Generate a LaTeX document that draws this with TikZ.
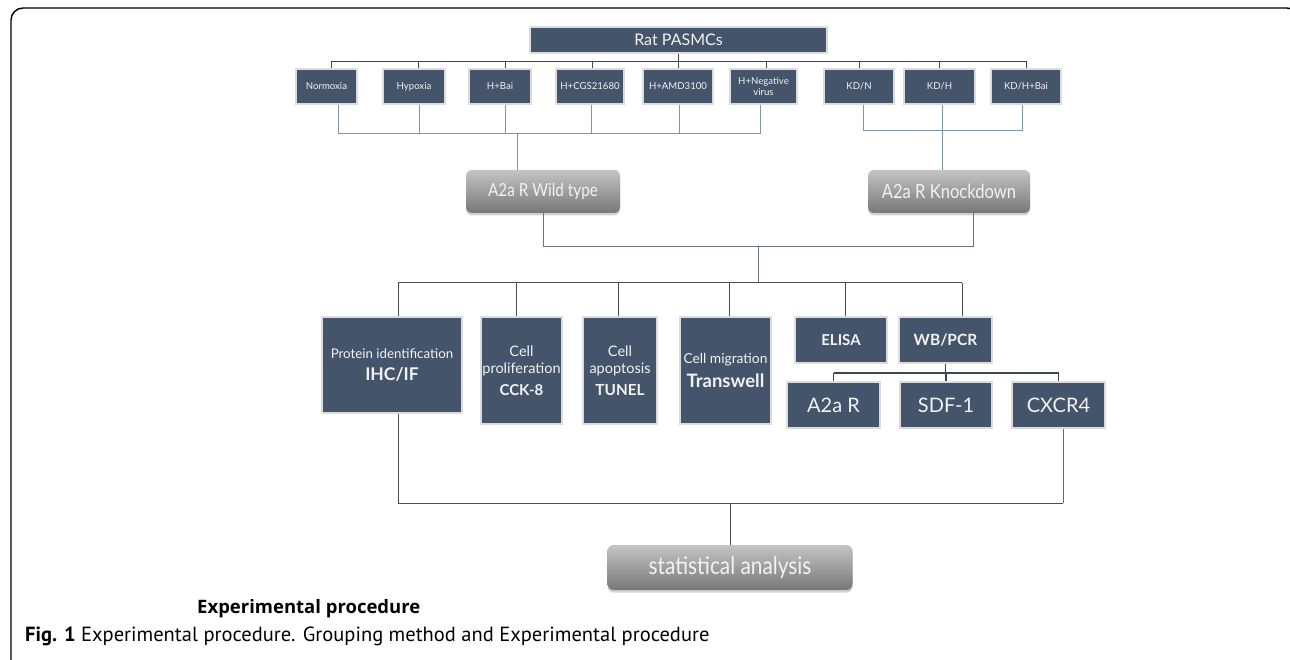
\documentclass[tikz,border=0pt]{standalone}
\usepackage{fontspec}
\setmainfont{Lato}
\newfontfamily\capfont{PT Sans}
\newfontfamily\expfont{Open Sans}
\newfontfamily\condfont[FakeStretch=0.85]{Lato}
\usetikzlibrary{shadows}
\definecolor{boxblue}{HTML}{44546A}
\definecolor{boxedge}{HTML}{DCDCDC}
\definecolor{txt}{HTML}{F2F2F2}
\definecolor{linedark}{HTML}{3B4656}
\definecolor{lineblue}{HTML}{7F93AE}
\definecolor{linegray}{HTML}{4D4D4D}
\definecolor{gtop}{HTML}{C4C4C4}
\definecolor{gbot}{HTML}{777777}
\begin{document}
\begin{tikzpicture}[x=1pt,y=-1pt,
  bbox/.style={draw=boxedge, line width=1.5pt, fill=boxblue, text=txt, inner sep=0pt, align=center},
  gbox/.style={rounded corners=6pt, top color=gtop, bottom color=gbot, draw=none, text=txt, inner sep=0pt, align=center,
     drop shadow={shadow xshift=0pt, shadow yshift=-2.5pt, opacity=0.35}},
  small/.style={font=\fontsize{9.6}{11}\selectfont},
  big/.style={font=\fontsize{20}{22}\selectfont},
  con/.style={line width=1pt}
]
\useasboundingbox (0,0) rectangle (1290,660);
\fill[white] (0,0) rectangle (1290,660);
% frame
\draw[line width=1.4pt, rounded corners=12pt] (11,672) -- (11,8) -- (1299,8) -- (1299,672);

% top
\node[bbox, minimum width=297pt, minimum height=26pt, font=\fontsize{16}{18}\selectfont] (rat) at (678.5,40) {Rat PASMCs};
\node[bbox, small, minimum width=61pt, minimum height=35pt] (norm) at (326.5,86.5) {Normoxia};
\node[bbox, small, minimum width=62pt, minimum height=35pt] (hyp) at (414,86.5) {Hypoxia};
\node[bbox, small, minimum width=62pt, minimum height=35pt] (hbai) at (500,86.5) {H+Bai};
\node[bbox, small, minimum width=68pt, minimum height=35pt] (hcgs) at (590,86.5) {H+CGS21680};
\node[bbox, small, minimum width=70pt, minimum height=35pt] (hamd) at (678,86.5) {H+AMD3100};
\node[bbox, small, minimum width=67pt, minimum height=35pt] (hneg) at (763.5,86.5) {H+Negative\\virus};
\node[bbox, small, minimum width=70pt, minimum height=35pt] (kdn) at (859,86.5) {KD/N};
\node[bbox, small, minimum width=71pt, minimum height=35pt] (kdh) at (939.5,86.5) {KD/H};
\node[bbox, small, minimum width=70pt, minimum height=35pt] (kdhb) at (1026,86.5) {KD/H+Bai};

\coordinate (b1) at (0,61.5);
\draw[linedark, line width=1.3pt] (rat.south) -- (rat.south |- b1);
\draw[linedark, line width=1.3pt] ([xshift=4.5pt]norm.north |- b1) -- (kdhb.north |- b1);
\foreach \n/\s in {norm/4.5,hyp/4,hbai/5,hcgs/2,hamd/0,hneg/2.5,kdn/0,kdh/-0.5,kdhb/0}
  \draw[linedark, line width=1pt] ([xshift=\s pt]\n.north |- b1) -- ([xshift=\s pt]\n.north);

% gray group boxes
\node[gbox, minimum width=154pt, minimum height=43pt, font=\condfont\fontsize{18}{20}\selectfont] (wt) at (543,191.5) {A2a R Wild type};
\node[gbox, minimum width=162pt, minimum height=43pt, font=\condfont\fontsize{19.5}{21}\selectfont] (kd) at (949,191.5) {A2a R Knockdown};

\coordinate (b2) at (0,134);
\foreach \n/\s in {norm/11.5,hyp/5,hbai/5,hcgs/1,hamd/1,hneg/-3.5}
  \draw[lineblue, con] ([xshift=\s pt]\n.south) -- ([xshift=\s pt]\n.south |- b2);
\draw[lineblue, con] ([xshift=11.5pt]norm.south |- b2) -- ([xshift=-3.5pt]hneg.south |- b2);
\coordinate (wtin) at (517,134);
\draw[lineblue, con] (wtin) -- (wtin |- wt.north);

\coordinate (b3) at (0,131);
\foreach \n/\s in {kdn/4,kdh/2.5,kdhb/-4}
  \draw[lineblue, con] ([xshift=\s pt]\n.south) -- ([xshift=\s pt]\n.south |- b3);
\draw[lineblue, con] ([xshift=4pt]kdn.south |- b3) -- ([xshift=-4pt]kdhb.south |- b3);
\coordinate (kdin) at (942,131);
\draw[lineblue, con] (kdin) -- (kdin |- kd.north);

\coordinate (b4) at (0,247);
\draw[lineblue!80!black, con] (wt.south) |- ([xshift=24pt]kd.south |- b4) -- ([xshift=24pt]kd.south);
\coordinate (m1) at (758,247);
\coordinate (m2) at (758,283);
\draw[lineblue!80!black, con] (m1) -- (m2);

% methods
\node[bbox, minimum width=140pt, minimum height=96pt, font=\fontsize{13.3}{16}\selectfont] (prot) at (392,365)
  {Protein identification\\[6pt]\fontsize{17.5}{19}\selectfont\bfseries IHC/IF};
\node[bbox, minimum width=81pt, minimum height=107pt, font=\fontsize{14.5}{17}\selectfont] (prolif) at (521.5,370.5)
  {Cell\\ proliferation\\[5pt]\fontsize{15}{17}\selectfont\bfseries CCK-8};
\node[bbox, minimum width=74pt, minimum height=107pt, font=\fontsize{14.5}{17}\selectfont] (apop) at (620,370.5)
  {Cell\\ apoptosis\\[5pt]\fontsize{15.3}{17}\selectfont\bfseries TUNEL};
\node[bbox, minimum width=91pt, minimum height=107pt, font=\fontsize{13.8}{16}\selectfont] (migr) at (725.5,370.5)
  {Cell migration\\[6pt]\fontsize{18.5}{20}\selectfont\bfseries Transwell};
\node[bbox, minimum width=92pt, minimum height=46pt, font=\fontsize{15}{17}\selectfont\bfseries] (elisa) at (841,340) {ELISA};
\node[bbox, minimum width=93pt, minimum height=46pt, font=\fontsize{15.5}{17}\selectfont\bfseries] (wb) at (945.5,340) {WB/PCR};
\node[bbox, big, minimum width=93pt, minimum height=46pt] (a2a) at (833.5,405) {A2a R};
\node[bbox, big, minimum width=92pt, minimum height=46pt] (sdf) at (946,405) {SDF-1};
\node[bbox, big, minimum width=93pt, minimum height=46pt] (cxcr) at (1058.5,405) {CXCR4};

\coordinate (b5) at (0,283);
\draw[linegray, con] ([xshift=6pt]prot.north |- b5) -- ([xshift=16.5pt]wb.north |- b5);
\foreach \n/\s in {prot/6,prolif/-5.5,apop/-2,migr/4,elisa/4.5,wb/16.5}
  \draw[linegray, con] ([xshift=\s pt]\n.north |- b5) -- ([xshift=\s pt]\n.north);

\coordinate (b6) at (0,373);
\draw[linedark, line width=1.2pt] (wb.south) -- (wb.south |- b6);
\draw[linedark, line width=1.2pt] (a2a.north |- b6) -- (cxcr.north |- b6);
\foreach \n in {a2a,sdf,cxcr}
  \draw[linedark, line width=1.2pt] (\n.north |- b6) -- (\n.north);

% statistics
\node[gbox, minimum width=245pt, minimum height=45pt, font=\condfont\fontsize{24.5}{26}\selectfont] (stat) at (730,567.5) {statistical analysis};
\coordinate (b7) at (0,503);
\draw[linegray, con] ([xshift=6pt]prot.south) -- ([xshift=6pt]prot.south |- b7) -- ([xshift=4.5pt]cxcr.south |- b7);
\draw[lineblue!70!black, con] ([xshift=4.5pt]cxcr.south) -- ([xshift=4.5pt]cxcr.south |- b7);
\coordinate (sin) at (730,503);
\draw[linegray, con] (sin) -- (stat.north);

% captions
\node[font=\expfont\bfseries\fontsize{18.5}{20}\selectfont, anchor=base west, inner sep=0pt] (exp) at (197,613) {Experimental procedure};
\node[font=\capfont\fontsize{20.5}{22}\selectfont, anchor=base west, inner sep=0pt] (cap) at (25,641) {\textbf{Fig. 1} Experimental procedure. Grouping method and Experimental procedure};
\end{tikzpicture}
\end{document}
